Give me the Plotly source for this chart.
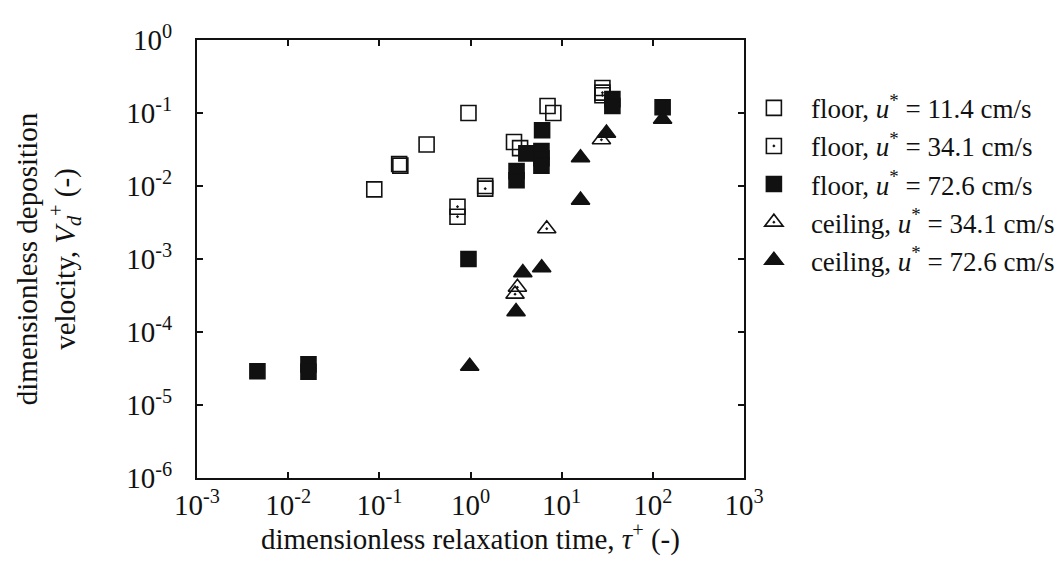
import plotly.graph_objects as go

# floor, u* = 11.4 cm/s (open squares)
floor_114_x = [0.088, 0.165, 0.17, 0.33, 0.95, 1.45, 3.0, 7.0, 8.1, 28]
floor_114_y = [0.009, 0.020, 0.019, 0.037, 0.10, 0.010, 0.040, 0.125, 0.10, 0.22]

# floor, u* = 34.1 cm/s (squares with dot)
floor_341_x = [0.72, 0.72, 1.45, 3.5, 28, 28]
floor_341_y = [0.0052, 0.0038, 0.0092, 0.033, 0.19, 0.175]

# floor, u* = 72.6 cm/s (filled squares)
floor_726_x = [0.0046, 0.0167, 0.0167, 0.95, 3.2, 3.2, 4.1, 6.1, 6.0, 6.0, 6.0, 36, 36, 128]
floor_726_y = [2.9e-5, 3.6e-5, 2.85e-5, 0.001, 0.016, 0.012, 0.028, 0.058, 0.030, 0.024, 0.019, 0.155, 0.125, 0.12]

# ceiling, u* = 34.1 cm/s (open triangles with dot)
ceil_341_x = [3.08, 3.27, 6.86, 27.3]
ceil_341_y = [3.3e-4, 4.1e-4, 0.0026, 0.043]

# ceiling, u* = 72.6 cm/s (filled triangles)
ceil_726_x = [0.98, 3.16, 3.75, 6.04, 16.1, 16.1, 31, 128]
ceil_726_y = [3.4e-5, 1.9e-4, 6.5e-4, 7.6e-4, 0.0064, 0.0244, 0.053, 0.082]

x_tickvals = [1e-3, 1e-2, 1e-1, 1e0, 1e1, 1e2, 1e3]
x_ticktext = ['10<sup>-3</sup>', '10<sup>-2</sup>', '10<sup>-1</sup>', '10<sup>0</sup>',
              '10<sup>1</sup>', '10<sup>2</sup>', '10<sup>3</sup>']
y_tickvals = [1e0, 1e-1, 1e-2, 1e-3, 1e-4, 1e-5, 1e-6]
y_ticktext = ['10<sup>0</sup>', '10<sup>-1</sup>', '10<sup>-2</sup>', '10<sup>-3</sup>',
              '10<sup>-4</sup>', '10<sup>-5</sup>', '10<sup>-6</sup>']

FONT = 'Liberation Serif'
BLACK = '#111111'

series = [
    (floor_114_x, floor_114_y, 'square-open', 'floor, <i>u</i><sup>*</sup> = 11.4 cm/s'),
    (floor_341_x, floor_341_y, 'square-open-dot', 'floor, <i>u</i><sup>*</sup> = 34.1 cm/s'),
    (floor_726_x, floor_726_y, 'square', 'floor, <i>u</i><sup>*</sup> = 72.6 cm/s'),
    (ceil_341_x, ceil_341_y, 'triangle-up-open-dot', 'ceiling, <i>u</i><sup>*</sup> = 34.1 cm/s'),
    (ceil_726_x, ceil_726_y, 'triangle-up', 'ceiling, <i>u</i><sup>*</sup> = 72.6 cm/s'),
]

fig = go.Figure()
for i, (xs, ys, sym, name) in enumerate(series):
    tri = sym.startswith('triangle')
    fig.add_trace(go.Scatter(
        x=xs, y=ys, mode='markers', name=name, legendgroup=f'g{i}',
        marker=dict(symbol=sym, size=16 if tri else 15, color=BLACK,
                    line=dict(color=BLACK, width=1.6)),
    ))

axis_common = dict(
    type='log', showgrid=False, zeroline=False,
    showline=True, linecolor=BLACK, linewidth=2, mirror='ticks',
    ticks='inside', ticklen=6, tickwidth=1.5, tickcolor=BLACK,
    tickfont=dict(family=FONT, size=29, color=BLACK),
)

fig.update_xaxes(
    range=[-3, 3], tickvals=x_tickvals, ticktext=x_ticktext,
    **axis_common,
)
fig.update_yaxes(
    range=[-6, 0], tickvals=y_tickvals, ticktext=y_ticktext,
    ticklabelstandoff=17,
    title=dict(text='dimensionless deposition<br>velocity, <i>V<sub>d</sub></i><sup>+</sup> (-)',
               font=dict(family=FONT, size=29, color=BLACK), standoff=42),
    **axis_common,
)

# x-axis title as annotation so it can sit close under the tick labels
fig.add_annotation(
    text='dimensionless relaxation time, <i>τ</i><sup>+</sup> (-)',
    xref='paper', yref='paper', x=0.5, y=-0.135,
    xanchor='center', yanchor='middle', showarrow=False,
    font=dict(family=FONT, size=29, color=BLACK),
)

fig.update_layout(
    width=1064, height=570,
    paper_bgcolor='white', plot_bgcolor='white',
    margin=dict(l=189, r=326, t=25, b=100),
    font=dict(family=FONT, color=BLACK),
    legend=dict(
        x=0.987, xanchor='left', y=0.9, yanchor='top',
        font=dict(family=FONT, size=27, color=BLACK),
        itemwidth=64, tracegroupgap=0, bgcolor='rgba(0,0,0,0)',
    ),
)

fig.write_html('out.html')
